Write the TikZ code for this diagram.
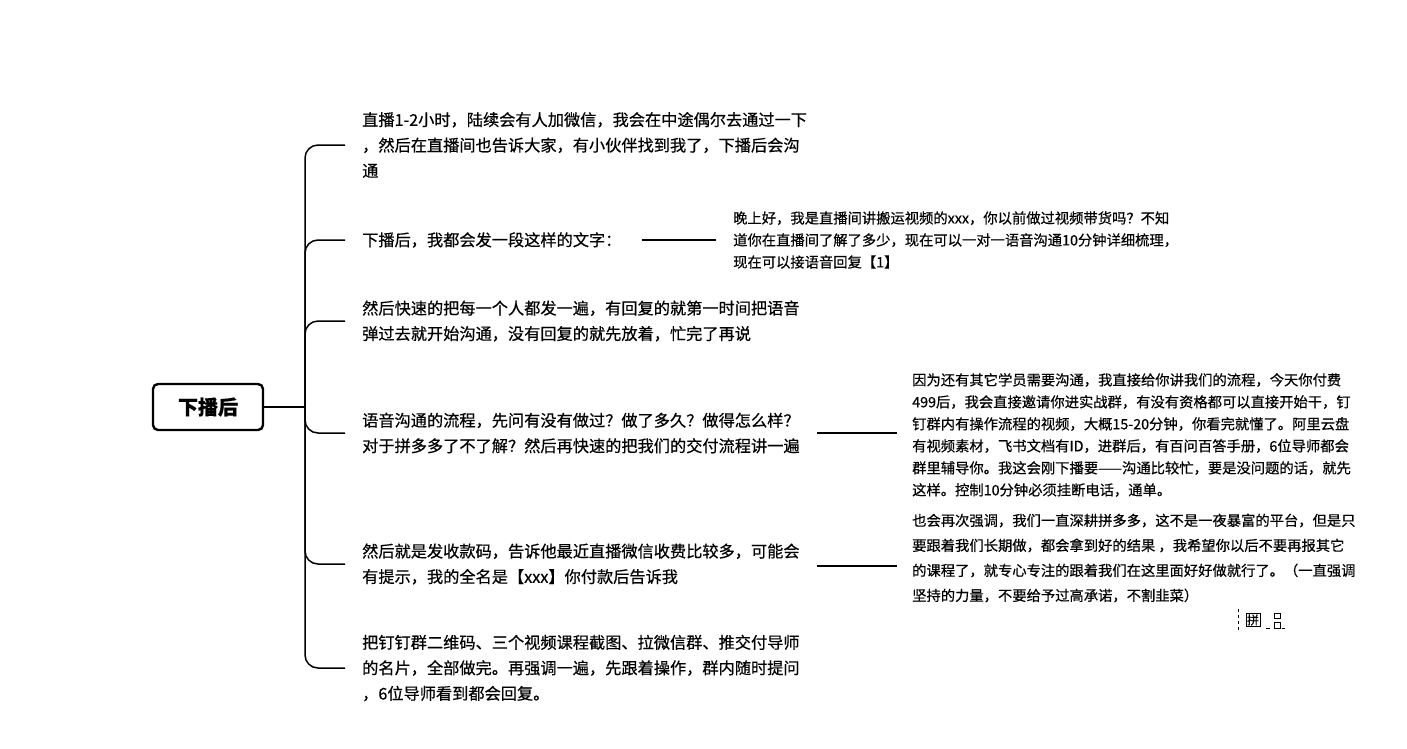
\documentclass[tikz,border=0pt]{standalone}
\usepackage{fontspec}
\setmainfont{Noto Sans CJK SC}[FakeBold=0.5]
\begin{document}
\begin{tikzpicture}[x=1pt,y=-1pt,
  rootbox/.style={draw, line width=2.4pt, rounded corners=5pt, minimum width=110pt, minimum height=46pt, font=\fontsize{20}{24}\selectfont\bfseries, inner sep=0pt},
  lefttext/.style={anchor=west, align=left, inner sep=0pt, font=\fontsize{16.2}{25.5}\selectfont},
  righttext/.style={anchor=west, align=left, inner sep=0pt, font=\fontsize{14.3}{22}\selectfont},
  branch/.style={line width=1.5pt, rounded corners=13pt},
  link/.style={line width=1.5pt}]
\useasboundingbox (0,0) rectangle (1407,748);
\node[rootbox] (root) at (208,407) {下播后};
\coordinate (jn) at (305,407);
\node[lefttext] (t1) at (362,145) {直播1-2小时，陆续会有人加微信，我会在中途偶尔去通过一下\\，然后在直播间也告诉大家，有小伙伴找到我了，下播后会沟\\通};
\node[lefttext] (t2) at (362,240) {下播后，我都会发一段这样的文字：};
\node[lefttext] (t3) at (362,321) {然后快速的把每一个人都发一遍，有回复的就第一时间把语音\\弹过去就开始沟通，没有回复的就先放着，忙完了再说};
\node[lefttext] (t5) at (362,433) {语音沟通的流程，先问有没有做过？做了多久？做得怎么样？\\对于拼多多了不了解？然后再快速的把我们的交付流程讲一遍};
\node[lefttext] (t8) at (362,564) {然后就是发收款码，告诉他最近直播微信收费比较多，可能会\\有提示，我的全名是【xxx】你付款后告诉我};
\node[lefttext] (t10) at (362,668) {把钉钉群二维码、三个视频课程截图、拉微信群、推交付导师\\的名片，全部做完。再强调一遍，先跟着操作，群内随时提问\\，6位导师看到都会回复。};
\node[righttext] (t4) at (733,240) {晚上好，我是直播间讲搬运视频的xxx，你以前做过视频带货吗？不知\\道你在直播间了解了多少，现在可以一对一语音沟通10分钟详细梳理，\\现在可以接语音回复【1】};
\node[righttext] (t7) at (912,435) {因为还有其它学员需要沟通，我直接给你讲我们的流程，今天你付费\\499后，我会直接邀请你进实战群，有没有资格都可以直接开始干，钉\\钉群内有操作流程的视频，大概15-20分钟，你看完就懂了。阿里云盘\\有视频素材，飞书文档有ID，进群后，有百问百答手册，6位导师都会\\群里辅导你。我这会刚下播要——沟通比较忙，要是没问题的话，就先\\这样。控制10分钟必须挂断电话，通单。};
\node[righttext, font=\fontsize{14.3}{25}\selectfont] (t9) at (912,558) {也会再次强调，我们一直深耕拼多多，这不是一夜暴富的平台，但是只\\要跟着我们长期做，都会拿到好的结果 ，我希望你以后不要再报其它\\的课程了，就专心专注的跟着我们在这里面好好做就行了。（一直强调\\坚持的力量，不要给予过高承诺，不割韭菜）};
% connectors
\draw[link] (root.east) -- (jn);
\foreach \t in {t1,t2,t3,t5,t8,t10}{
  \draw[branch] (jn) |- ([xshift=-17pt]\t.west);
}
\draw[link] ([xshift=20pt]t2.east) -- ([xshift=-17pt]t4.west);
\draw[link] (817,433) -- ([xshift=-15pt]t7.west |- 0,433);
\draw[line width=2.4pt] (817,566) -- ([xshift=-15pt]t9.west |- 0,566);
% small icon
\draw[dashed, line width=0.8pt] (1238,609) -- (1238,631);
\node[draw, line width=0.8pt, inner sep=1pt, font=\fontsize{12}{12}\selectfont] (ic) at (1253,620) {拼};
\draw[line width=0.8pt] (1266,628) -- (1270,628);
\draw[line width=1pt] (1274,613) rectangle (1280,618);
\draw[line width=1pt] (1274,622) rectangle (1280,628);
\draw[line width=0.8pt] (1282,628) -- (1285,628);
\end{tikzpicture}
\end{document}
